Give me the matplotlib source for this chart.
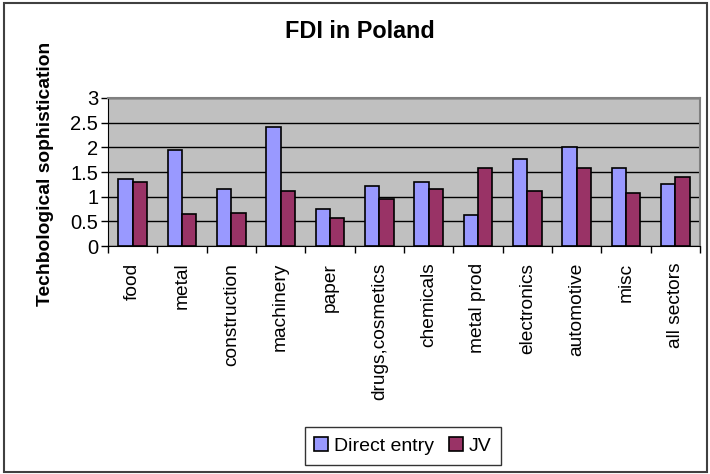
import numpy as np
import matplotlib
matplotlib.use("Agg")
import matplotlib.pyplot as plt
from matplotlib.patches import Rectangle

sectors = ['food', 'metal', 'construction', 'machinery', 'paper', 'drugs,cosmetics',
           'chemicals', 'metal prod', 'electronics', 'automotive', 'misc', 'all sectors']
direct_entry = [1.36, 1.94, 1.15, 2.41, 0.75, 1.21, 1.29, 0.63, 1.76, 2.0, 1.58, 1.25]
jv = [1.29, 0.64, 0.67, 1.11, 0.57, 0.96, 1.15, 1.58, 1.11, 1.58, 1.07, 1.40]

plt.rcParams['font.family'] = ['Liberation Sans', 'DejaVu Sans']

fig = plt.figure(figsize=(7.1, 4.74), dpi=100)
ax = fig.add_axes([108/710, 1 - 246/474, 592/710, 148/474])

x = np.arange(len(sectors))
w = 0.29
ax.bar(x - w/2, direct_entry, w, color='#9999FF', edgecolor='black', lw=1.2, label='Direct entry', zorder=3)
ax.bar(x + w/2, jv, w, color='#993366', edgecolor='black', lw=1.2, label='JV', zorder=3)

ax.set_facecolor('#C0C0C0')
ax.set_xlim(-0.5, len(sectors) - 0.5)
ax.set_ylim(0, 3)
ax.set_yticks([0, 0.5, 1, 1.5, 2, 2.5, 3])
ax.set_yticklabels(['0', '0.5', '1', '1.5', '2', '2.5', '3'], fontsize=14.5)
ax.yaxis.grid(True, color='black', lw=1, zorder=1)
ax.set_xticks(x)
ax.set_xticklabels(sectors, rotation=90, fontsize=13.8)
ax.tick_params(axis='x', length=0, pad=12)
ax.set_xticks(np.arange(len(sectors) + 1) - 0.5, minor=True)
ax.tick_params(axis='x', which='minor', length=5, width=1)
ax.tick_params(axis='y', length=5, width=1, pad=2)
for s in ['top', 'right']:
    ax.spines[s].set_color('#808080')
    ax.spines[s].set_linewidth(1.5)
ax.spines['left'].set_color('black')
ax.spines['bottom'].set_color('black')

ax.set_ylabel('Techbological sophistication', fontsize=13.9, fontweight='bold', va='center')
ax.yaxis.set_label_coords((46 - 108) / 592, (246 - 174) / 148)
fig.text(360/710, 1 - 32/474, 'FDI in Poland', ha='center', va='center', fontsize=16.8, fontweight='bold')

leg = fig.legend(loc='center', bbox_to_anchor=(403/710, 1 - 446/474), ncol=2, fontsize=14,
                 frameon=True, fancybox=False, edgecolor='black', handlelength=0.7,
                 handleheight=0.7, handletextpad=0.3, columnspacing=0.8, borderpad=0.5)
leg.get_frame().set_linewidth(1)

fig.patches.append(Rectangle((4/710, 2/474), 703/710, 469/474, transform=fig.transFigure,
                             fill=False, edgecolor='#404040', lw=1.5))

fig.savefig('out.png', dpi=100)
